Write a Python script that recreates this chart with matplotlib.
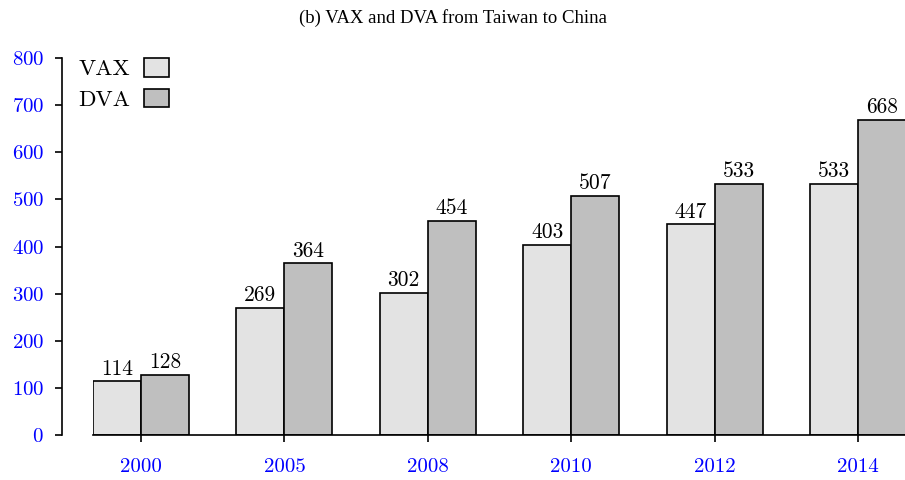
import numpy as np
import matplotlib
matplotlib.use("Agg")
import matplotlib.pyplot as plt

# data
years = ["2000", "2005", "2008", "2010", "2012", "2014"]
vax = [114, 269, 302, 403, 447, 533]
dva = [128, 364, 454, 507, 533, 668]

plt.rcParams["font.family"] = ["cmr10", "DejaVu Serif"]
plt.rcParams["axes.formatter.use_mathtext"] = True

fig = plt.figure(figsize=(9.05, 4.8), dpi=100)
ax = fig.add_axes([0.1028, 0.09375, 0.8983, 0.7854])

x = np.arange(len(years))
w = 0.335
b1 = ax.bar(x - w / 2, vax, w, color="#e3e3e3", edgecolor="black", linewidth=1.2, label="VAX")
b2 = ax.bar(x + w / 2, dva, w, color="#bfbfbf", edgecolor="black", linewidth=1.2, label="DVA")
ax.bar_label(b1, padding=2, fontsize=15.5)
ax.bar_label(b2, padding=2, fontsize=15.5)

ax.set_xlim(-w, len(years) - 1 + w)
ax.set_ylim(0, 800)
ax.set_xticks(x)
ax.set_xticklabels(years)
ax.set_yticks(range(0, 801, 100))
ax.tick_params(axis="both", colors="black", labelcolor="blue", labelsize=15,
               direction="out", length=5, width=1.2)
ax.tick_params(axis="x", pad=11.5)
ax.tick_params(axis="y", pad=8)

ax.spines["top"].set_visible(False)
ax.spines["right"].set_visible(False)
ax.spines["left"].set_position(("outward", 22.3))
ax.spines["left"].set_linewidth(1.2)
ax.spines["bottom"].set_linewidth(1.2)

leg = ax.legend(loc="upper left", bbox_to_anchor=(-0.044, 1.054), frameon=False,
                markerfirst=False, fontsize=16.5, handlelength=1.09, handleheight=0.87,
                handletextpad=0.6, labelspacing=0.4)

fig.text(0.5, 0.962, "(b) VAX and DVA from Taiwan to China", ha="center", va="center",
         family="Liberation Serif", fontsize=13.5, fontstretch="condensed")

fig.savefig("out.png", dpi=100)
